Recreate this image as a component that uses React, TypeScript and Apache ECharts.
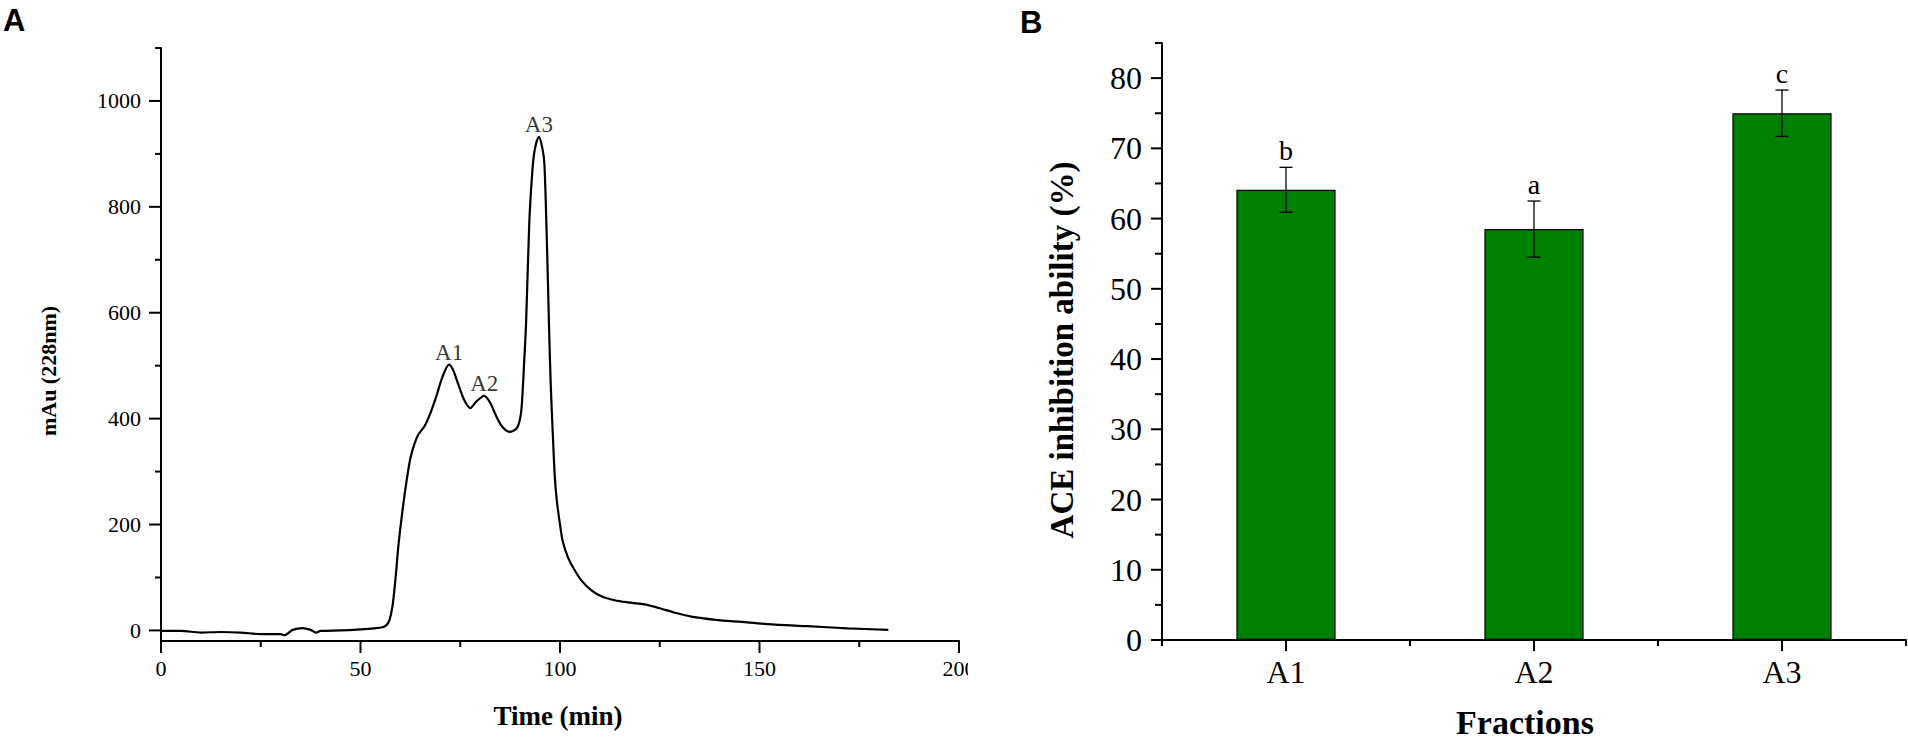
import React, { useEffect, useRef } from "react";
import * as echarts from "echarts";

// ---------- Panel A: chromatogram ----------
const timeMin = [
  0, 5, 10, 15, 20, 25, 30, 31, 33, 35.5, 37.5, 38.9, 40, 45, 50, 53.5, 55.5, 56.5, 57.2, 58,
  58.8, 59.5, 60.5, 61.5, 62.5, 63.5, 64.5, 66, 67.5, 69, 70.5, 72.2, 73.2, 74.5, 76, 77.5, 79, 81,
  82.5, 84, 85.5, 87.3, 89.2, 90.2, 90.7, 91.0, 91.5, 92.3, 93.0, 93.6, 94.7, 95.6, 96.1, 96.8,
  97.3, 97.7, 98.2, 98.7, 99.2, 100, 100.7, 102, 103.5, 105.3, 107.8, 110.5, 113.7, 117, 120.4,
  123, 125.4, 129, 132.9, 139, 145.5, 152, 162, 172, 182.3,
];
const absorbance = [
  -1, -1, -4, -3, -4, -7, -7, -9, 1, 4.5, 1, -4, -1, 0, 2, 4, 6, 10, 18, 45,
  100, 160, 225, 280, 325, 352, 370, 385, 410, 442, 478, 502, 492, 465, 435, 420, 432, 443,
  430, 405, 385, 375, 382, 409, 460, 504, 580, 770, 860, 905, 932, 910, 880, 710,
  560, 460, 370, 290, 245, 200, 168, 138, 116, 95, 76, 64, 57, 53, 50,
  46, 41, 33, 26, 20, 16, 12, 8, 4, 1,
];
const peakNames = ["A1", "A2", "A3"];
const peakTimes = [72.2, 81.0, 94.7];
const peakValues = [502, 443, 932];
const aXMajorValues = [0, 50, 100, 150, 200];
const aXMinorValues = [25, 75, 125, 175];
const aYLabelValues = [0, 200, 400, 600, 800, 1000];
const aYMinorValues = [100, 300, 500, 700, 900, 1100];

// ---------- Panel B: ACE inhibition ----------
const fractions = ["A1", "A2", "A3"];
const inhibition = [64.1, 58.5, 75.0];
const inhibitionSD = [3.2, 4.0, 3.3];
const letters = ["b", "a", "c"];
const bYLabelValues = [0, 10, 20, 30, 40, 50, 60, 70, 80];
const bYMinorValues = [5, 15, 25, 35, 45, 55, 65, 75, 85];

const SERIF = '"Liberation Serif", "Times New Roman", serif';
const SANS = '"Liberation Sans", Arial, sans-serif';

const MAJOR = 12;
const MINOR = 6;
const TICK_COLOR = "#000";

const axisLine = () => ({ show: true, onZero: false, lineStyle: { color: "#000", width: 2 } });

export default function App() {
  const ref = useRef<HTMLDivElement>(null);

  useEffect(() => {
    if (!ref.current) return;
    const chart = echarts.init(ref.current, null, { renderer: "svg" });

    const tickRect = (x: number, y: number, w: number, h: number) => ({
      type: "rect",
      shape: { x, y, width: w, height: h },
      style: { fill: TICK_COLOR },
    });

    const option: any = {
      animation: false,
      backgroundColor: "#fff",
      grid: [
        { left: 161, top: 48, width: 798, height: 593, containLabel: false },
        { left: 1162, top: 43, width: 744, height: 597, containLabel: false },
      ],
      xAxis: [
        {
          type: "value",
          gridIndex: 0,
          position: "bottom",
          min: 0,
          max: 200,
          interval: 50,
          axisLine: axisLine(),
          axisTick: { show: false },
          axisLabel: { color: "#000", fontFamily: SERIF, fontSize: 22, margin: 16 },
          splitLine: { show: false },
        },
        {
          type: "category",
          gridIndex: 1,
          position: "bottom",
          data: fractions,
          axisLine: axisLine(),
          axisTick: { show: false },
          axisLabel: { color: "#000", fontFamily: SERIF, fontSize: 32, margin: 16 },
          splitLine: { show: false },
        },
      ],
      yAxis: [
        {
          type: "value",
          gridIndex: 0,
          position: "left",
          min: -20,
          max: 1100,
          axisLine: axisLine(),
          axisTick: { show: false },
          axisLabel: {
            color: "#000",
            fontFamily: SERIF,
            fontSize: 22,
            margin: 20,
            customValues: aYLabelValues,
            formatter: (v: number) => String(v),
          },
          splitLine: { show: false },
        },
        {
          type: "value",
          gridIndex: 1,
          position: "left",
          min: 0,
          max: 85,
          axisLine: axisLine(),
          axisTick: { show: false },
          axisLabel: { color: "#000", fontFamily: SERIF, fontSize: 32, margin: 20, customValues: bYLabelValues },
          splitLine: { show: false },
        },
      ],
      series: [
        {
          type: "line",
          name: "Chromatogram",
          xAxisIndex: 0,
          yAxisIndex: 0,
          data: timeMin.map((t, i) => [t, absorbance[i]]),
          showSymbol: false,
          smooth: 0.3,
          lineStyle: { color: "#000", width: 2.2 },
          z: 3,
        },
        {
          type: "scatter",
          name: "Peaks",
          xAxisIndex: 0,
          yAxisIndex: 0,
          symbolSize: 0,
          data: peakTimes.map((t, i) => ({ value: [t, peakValues[i]], name: peakNames[i] })),
          label: {
            show: true,
            position: "top",
            distance: 1,
            formatter: (p: any) => p.name,
            color: "#000",
            fontFamily: SERIF,
            fontSize: 23,
          },
          z: 4,
        },
        {
          type: "custom",
          name: "A x ticks",
          xAxisIndex: 0,
          yAxisIndex: 0,
          clip: false,
          silent: true,
          data: [
            ...aXMajorValues.map((v) => [v, 0, MAJOR]),
            ...aXMinorValues.map((v) => [v, 0, MINOR]),
          ],
          encode: { x: 0, y: 1 },
          renderItem: (params: any, api: any) => {
            const cs = params.coordSys;
            const x = api.coord([api.value(0), 0])[0];
            const y0 = cs.y + cs.height;
            const len = api.value(2);
            return tickRect(x - 1, y0, 2, len);
          },
          z: 20,
        },
        {
          type: "custom",
          name: "A y ticks",
          xAxisIndex: 0,
          yAxisIndex: 0,
          clip: false,
          silent: true,
          data: [
            ...aYLabelValues.map((v) => [0, v, MAJOR]),
            ...aYMinorValues.map((v) => [0, v, MINOR]),
          ],
          encode: { x: 0, y: 1 },
          renderItem: (params: any, api: any) => {
            const cs = params.coordSys;
            const y = api.coord([0, api.value(1)])[1];
            const len = api.value(2);
            return tickRect(cs.x - len, y - 1, len, 2);
          },
          z: 20,
        },
        {
          type: "bar",
          name: "ACE inhibition",
          xAxisIndex: 1,
          yAxisIndex: 1,
          data: inhibition,
          barWidth: "40%",
          itemStyle: { color: "#008000", borderColor: "#000", borderWidth: 1.2 },
          z: 2,
        },
        {
          type: "custom",
          name: "SD",
          xAxisIndex: 1,
          yAxisIndex: 1,
          data: fractions.map((_, i) => [i, inhibition[i], inhibitionSD[i]]),
          encode: { x: 0, y: 1 },
          renderItem: (params: any, api: any) => {
            const x = api.value(0);
            const mean = api.value(1);
            const sd = api.value(2);
            const top = api.coord([x, mean + sd]);
            const bot = api.coord([x, mean - sd]);
            const hw = 6.5;
            const st = { stroke: "#000", lineWidth: 1.3 };
            return {
              type: "group",
              children: [
                { type: "line", shape: { x1: top[0], y1: top[1], x2: bot[0], y2: bot[1] }, style: st },
                { type: "line", shape: { x1: top[0] - hw, y1: top[1], x2: top[0] + hw, y2: top[1] }, style: st },
                { type: "line", shape: { x1: bot[0] - hw, y1: bot[1], x2: bot[0] + hw, y2: bot[1] }, style: st },
                {
                  type: "text",
                  x: top[0],
                  y: top[1] - 3,
                  style: {
                    text: letters[params.dataIndex],
                    fill: "#000",
                    font: `28px ${SERIF}`,
                    textAlign: "center",
                    textVerticalAlign: "bottom",
                  },
                },
              ],
            };
          },
          z: 5,
        },
        {
          type: "custom",
          name: "B y ticks",
          xAxisIndex: 1,
          yAxisIndex: 1,
          clip: false,
          silent: true,
          data: [
            ...bYLabelValues.map((v) => [0, v, MAJOR - 1]),
            ...bYMinorValues.map((v) => [0, v, MINOR + 1]),
          ],
          encode: { x: 0, y: 1 },
          renderItem: (params: any, api: any) => {
            const cs = params.coordSys;
            const y = api.coord([0, api.value(1)])[1];
            const len = api.value(2);
            return tickRect(cs.x - len, y - 1, len, 2);
          },
          z: 20,
        },
        {
          type: "custom",
          name: "B x ticks",
          xAxisIndex: 1,
          yAxisIndex: 1,
          clip: false,
          silent: true,
          data: fractions.map((_, i) => [i, 0]),
          encode: { x: 0, y: 1 },
          renderItem: (params: any, api: any) => {
            const cs = params.coordSys;
            const i = api.value(0);
            const cx = api.coord([i, 0])[0];
            const band = api.size([1, 0])[0];
            const y0 = cs.y + cs.height;
            const children: any[] = [
              tickRect(cx - 1, y0, 2, MAJOR - 1),
              tickRect(cx - band / 2 - 1, y0, 2, MINOR),
            ];
            if (i === fractions.length - 1) children.push(tickRect(cx + band / 2 - 1, y0, 2, MINOR));
            return { type: "group", children };
          },
          z: 20,
        },
      ],
      graphic: [
        {
          type: "rect",
          left: 968,
          top: 656,
          shape: { width: 40, height: 32 },
          style: { fill: "#fff" },
          z: 100,
        },
        {
          type: "text",
          x: 3,
          y: 5,
          style: { text: "A", font: `bold 31px ${SANS}`, fill: "#000", textAlign: "left", textVerticalAlign: "top" },
        },
        {
          type: "text",
          x: 1020,
          y: 7,
          style: { text: "B", font: `bold 31px ${SANS}`, fill: "#000", textAlign: "left", textVerticalAlign: "top" },
        },
        {
          type: "text",
          x: 48,
          y: 371,
          rotation: Math.PI / 2,
          style: { text: "mAu (228nm)", font: `bold 22px ${SERIF}`, fill: "#000", textAlign: "center", textVerticalAlign: "middle" },
        },
        {
          type: "text",
          x: 558,
          y: 716,
          style: { text: "Time (min)", font: `bold 27px ${SERIF}`, fill: "#000", textAlign: "center", textVerticalAlign: "middle" },
        },
        {
          type: "text",
          x: 1062,
          y: 350,
          rotation: Math.PI / 2,
          style: { text: "ACE inhibition ability (%)", font: `bold 33px ${SERIF}`, fill: "#000", textAlign: "center", textVerticalAlign: "middle" },
        },
        {
          type: "text",
          x: 1525,
          y: 722,
          style: { text: "Fractions", font: `bold 34px ${SERIF}`, fill: "#000", textAlign: "center", textVerticalAlign: "middle" },
        },
      ],
    };

    chart.setOption(option);
    return () => chart.dispose();
  }, []);

  return (
    <div
      ref={ref}
      style={{ position: "fixed", left: 0, top: 0, width: 1908, height: 739, background: "#fff" }}
    />
  );
}
